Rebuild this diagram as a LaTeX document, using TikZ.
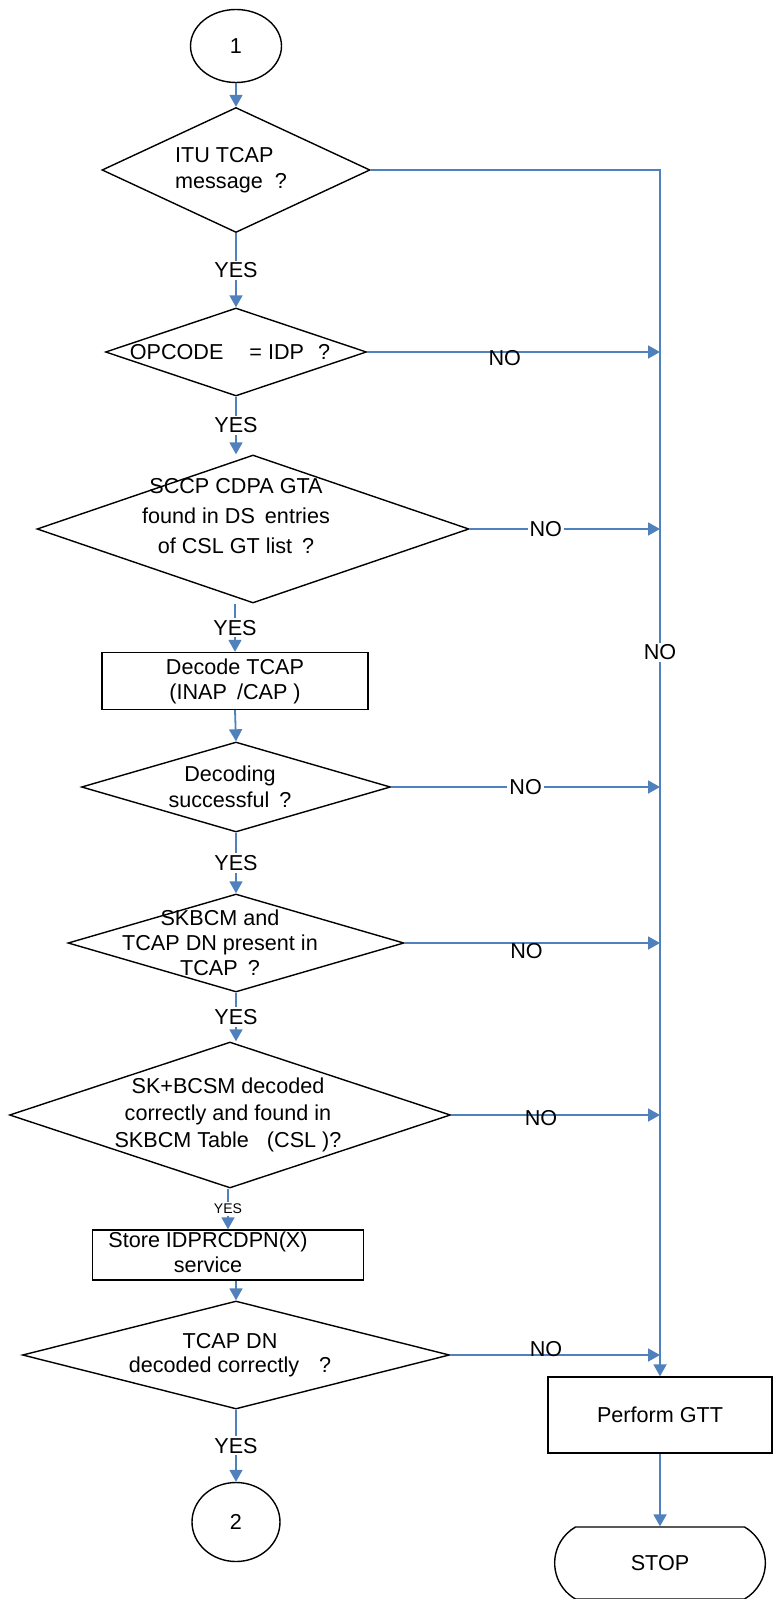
\documentclass[tikz,border=0pt]{standalone}
\usepackage{fontspec}
\setmainfont{Liberation Sans}
\usetikzlibrary{shapes.geometric,shapes.misc,arrows.meta}
\definecolor{flowblue}{RGB}{79,129,189}
\begin{document}
\begin{tikzpicture}[x=0.5pt,y=-0.5pt,font=\fontsize{10.8}{13}\selectfont,
  decision/.style={draw,line width=0.7pt,diamond,inner sep=0pt},
  process/.style={draw,line width=0.7pt,rectangle,inner sep=0pt,align=center},
  connector/.style={draw,line width=0.7pt,ellipse,inner sep=0pt},
  flow/.style={draw=flowblue,line width=0.9pt,-{Triangle[length=6pt,width=6.5pt]}},
  yeslabel/.style={fill=white,inner sep=1pt},
  nolabel/.style={inner sep=1pt},
  txt/.style={align=center}]
\useasboundingbox (0,0) rectangle (772,1599);

\node[connector,minimum width=45.5pt,minimum height=36.5pt] (start) at (236,46) {1};
\node[decision,minimum width=134pt,minimum height=62.5pt,
  label={[align=left,xshift=-2.5pt]center:ITU TCAP\\message\hspace{6pt}?}] (itu) at (236,170) {};
\node[decision,minimum width=130.5pt,minimum height=44pt,
  label={[xshift=-3pt]center:OPCODE\hspace{13pt}= IDP\hspace{7pt}?}] (opcode) at (236,352) {};
\node[decision,minimum width=216pt,minimum height=74pt,
  label={[txt,font=\fontsize{10.8}{15}\selectfont,xshift=-8.5pt,yshift=6.5pt]center:SCCP CDPA GTA\\found in DS\hspace{5pt}entries\\of CSL GT list\hspace{5pt}?}] (sccp) at (253,529) {};
\node[process,minimum width=133pt,minimum height=28.5pt,font=\fontsize{10.8}{12.5}\selectfont] (decode) at (235,681) {Decode TCAP\\(INAP\hspace{5pt}/CAP )};
\node[decision,minimum width=154.5pt,minimum height=45pt,
  label={[txt,xshift=-3pt]center:Decoding\\successful\hspace{5pt}?}] (decok) at (236,787) {};
\node[decision,minimum width=168pt,minimum height=49pt,
  label={[txt,font=\fontsize{10.8}{12.5}\selectfont,xshift=-8pt]center:SKBCM and\\TCAP DN present in\\TCAP\hspace{5pt}?}] (skbcm) at (236,943) {};
\node[decision,minimum width=220.5pt,minimum height=73pt,
  label={[txt,font=\fontsize{10.8}{13.5}\selectfont,xshift=-1pt]center:SK+BCSM decoded\\correctly and found in\\SKBCM Table\hspace{9pt}(CSL )?}] (skbcsm) at (230,1115) {};
\node[process,minimum width=135.5pt,minimum height=25pt,
  label={[txt,font=\fontsize{10.8}{12.5}\selectfont,xshift=-10pt,yshift=1.5pt]center:Store IDPRCDPN(X)\\service}] (store) at (228,1255) {};
\node[decision,minimum width=213.5pt,minimum height=54pt,
  label={[txt,font=\fontsize{10.8}{12}\selectfont,xshift=-3pt]center:TCAP DN\\decoded correctly\hspace{10pt}?}] (tcapdn) at (236,1355) {};
\node[connector,minimum width=44pt,minimum height=39.5pt] (next) at (236,1522) {2};
\node[process,minimum width=112pt,minimum height=38pt] (gtt) at (660,1415) {Perform GTT};
\node[draw,line width=0.7pt,rounded rectangle,rounded rectangle arc length=120,
  minimum width=112pt,minimum height=36pt] (stop) at (660,1563) {STOP};

\draw[flow] (start.south) -- (itu.north);
\draw[flow] (itu.south) -- node[yeslabel]{YES} (opcode.north);
\draw[flow] (opcode.south) -- node[yeslabel]{YES} (opcode.south |- sccp.north);
\draw[flow] (decode.north |- sccp.south) -- node[yeslabel]{YES} (decode.north);
\draw[flow] (decode.south) -- (decok.north);
\draw[flow] (decok.south) -- node[yeslabel]{YES} (skbcm.north);
\draw[flow] (skbcm.south) -- node[yeslabel]{YES} (skbcm.south |- skbcsm.north);
\draw[flow] (store.north |- skbcsm.south) -- node[yeslabel,font=\fontsize{7}{8}\selectfont]{YES} (store.north);
\draw[flow] (tcapdn.north |- store.south) -- (tcapdn.north);
\draw[flow] (tcapdn.south) -- node[yeslabel]{YES} (next.north);
\draw[flow] (gtt.south) -- (stop.north);

\draw[flow] (itu.east) -- (itu.east -| gtt.north) -- node[yeslabel,pos=0.4]{NO} (gtt.north);
\draw[flow] (opcode.east) -- node[nolabel,pos=0.47,yshift=-3pt]{NO} (opcode.east -| gtt.north);
\draw[flow] (sccp.east) -- node[yeslabel,pos=0.4]{NO} (sccp.east -| gtt.north);
\draw[flow] (decok.east) -- node[yeslabel,pos=0.5]{NO} (decok.east -| gtt.north);
\draw[flow] (skbcm.east) -- node[nolabel,pos=0.477,yshift=-4pt]{NO} (skbcm.east -| gtt.north);
\draw[flow] (skbcsm.east) -- node[nolabel,pos=0.43,yshift=-1.5pt]{NO} (skbcsm.east -| gtt.north);
\draw[flow] (tcapdn.east) -- node[nolabel,pos=0.457,yshift=3pt]{NO} (tcapdn.east -| gtt.north);
\end{tikzpicture}
\end{document}
